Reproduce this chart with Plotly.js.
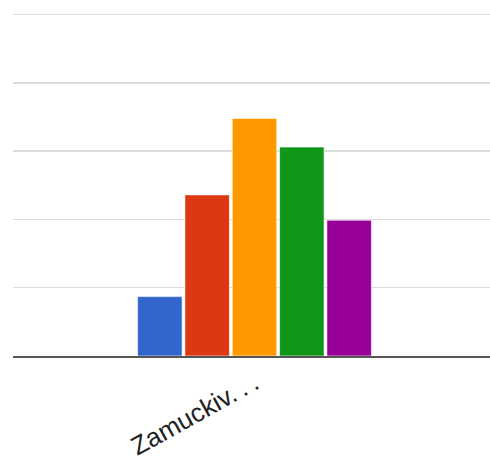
<!DOCTYPE html>
<html>
<head>
<meta charset="utf-8">
<script src="https://cdn.plot.ly/plotly-3.0.1.min.js"></script>
<style>
html, body { margin: 0; padding: 0; overflow: hidden; background: #ffffff; }
#chart { width: 496px; height: 461px; }
</style>
</head>
<body>
<div id="chart"></div>
<script>
const categories = ["Zamuckiv.\u2009.\u2009."];
const seriesNames = ["Series 1", "Series 2", "Series 3", "Series 4", "Series 5"];
const seriesValues = [0.87, 2.36, 3.48, 3.06, 1.99];
const seriesColors = ["#3366cc", "#dc3912", "#ff9900", "#109618", "#990099"];

const traces = seriesNames.map((name, i) => ({
  type: "bar",
  name: name,
  x: categories,
  y: [seriesValues[i]],
  marker: { color: seriesColors[i], line: { color: "rgba(255,255,255,0.6)", width: 1 } },
  hoverinfo: "none"
}));

const layout = {
  width: 496,
  height: 461,
  margin: { l: 13, r: 0, t: 1, b: 105 },
  paper_bgcolor: "#ffffff",
  plot_bgcolor: "#ffffff",
  showlegend: false,
  barmode: "group",
  bargap: 0.51,
  bargroupgap: 0.06,
  font: { family: "Liberation Sans, Arial, sans-serif", color: "#222222" },
  xaxis: {
    type: "category",
    showgrid: false,
    showline: true,
    linecolor: "#555555",
    linewidth: 2,
    ticks: "",
    tickangle: -29,
    tickfont: { size: 26, color: "#222222" },
    fixedrange: true
  },
  yaxis: {
    range: [0, 5.2],
    dtick: 1,
    showticklabels: false,
    showgrid: true,
    gridcolor: "#dcdcdc",
    gridwidth: 1.5,
    zeroline: false,
    showline: false,
    ticks: "",
    fixedrange: true
  }
};

Plotly.newPlot("chart", traces, layout, { displayModeBar: false, staticPlot: true });
</script>
</body>
</html>
